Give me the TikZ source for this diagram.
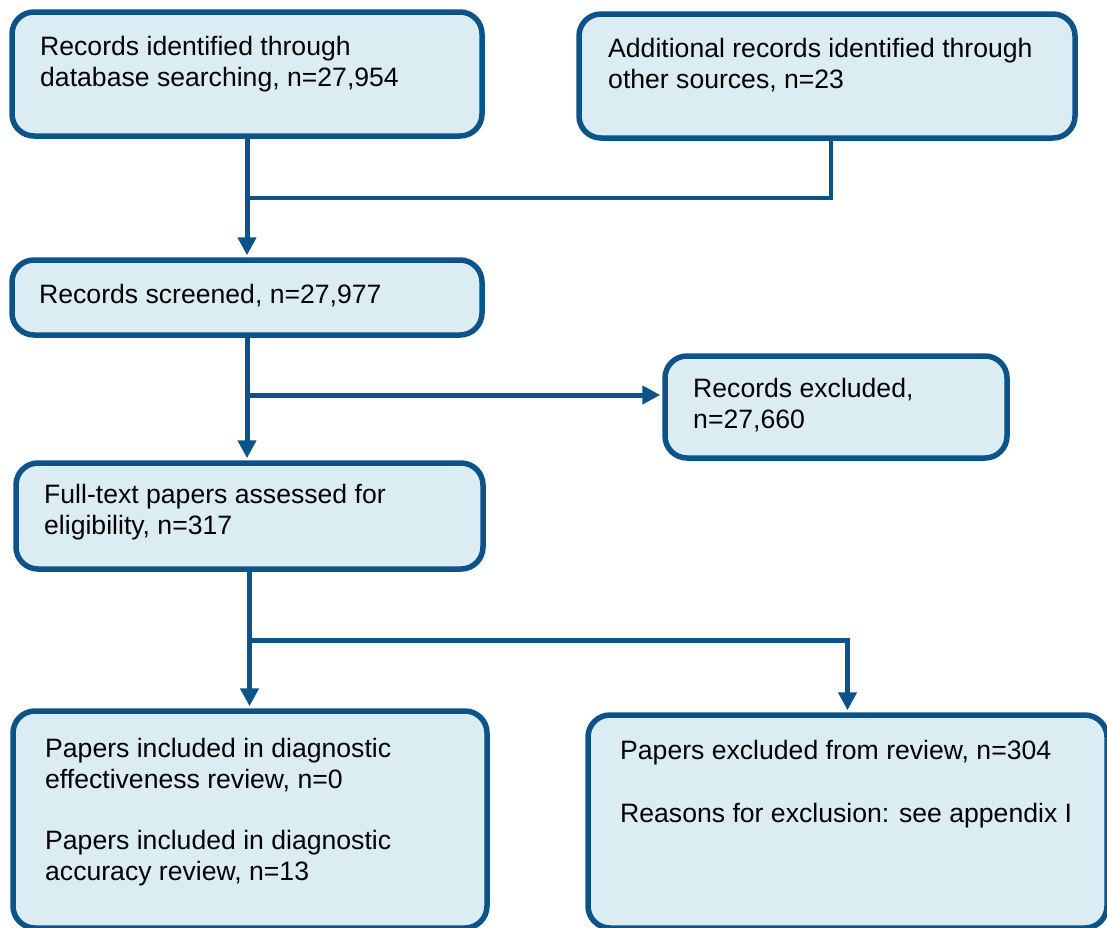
\documentclass[tikz,border=0pt]{standalone}
\usepackage{fontspec}
\setmainfont{Liberation Sans}
\usetikzlibrary{arrows.meta}
\definecolor{bd}{HTML}{0B5389}
\definecolor{fl}{HTML}{DBEDF3}
\begin{document}
\begin{tikzpicture}[x=1pt,y=-1pt,
  box/.style={draw=bd, fill=fl, line width=5.5pt, rounded corners=22pt, inner sep=0pt},
  txt/.style={anchor=base west, inner sep=0pt, font=\fontsize{26.6}{31}\selectfont, align=left},
  conn/.style={draw=bd, line width=5pt},
  arr/.style={conn, -{Triangle[length=18pt,width=18pt]}, shorten >=2pt}]
\useasboundingbox (0,0) rectangle (1107,927);
% boxes
\node[box, minimum width=470pt, minimum height=124pt] (b1) at (247,74) {};
\node[box, minimum width=496pt, minimum height=124pt] (b2) at (827,76) {};
\node[box, minimum width=470pt, minimum height=75pt] (scr) at (247,297.5) {};
\node[box, minimum width=342pt, minimum height=102pt] (exc) at (836,407) {};
\node[box, minimum width=467pt, minimum height=106pt] (ft) at (249.5,516) {};
\node[box, minimum width=474pt, minimum height=217pt] (bl) at (250,819.5) {};
\node[box, minimum width=519pt, minimum height=213pt] (br) at (847.5,821.5) {};
% texts (base anchor = last line's baseline)
\node[txt] (t1) at (40,86) {Records identified through\\database searching, n=27,954};
\node[txt] (t2) at (608,88) {Additional records identified through\\other sources, n=23};
\node[txt] (t3) at (39,303) {Records screened, n=27,977};
\node[txt] (t4) at (693,428) {Records excluded,\\n=27,660};
\node[txt] (t5) at (44,534) {Full-text papers assessed for\\eligibility, n=317};
\node[txt] (t6) at (45,788) {Papers included in diagnostic\\effectiveness review, n=0};
\node[txt] (t7) at (45,880) {Papers included in diagnostic\\accuracy review, n=13};
\node[txt] (t8) at (620,759) {Papers excluded from review, n=304};
\node[txt] (t9) at (620,822) {Reasons for exclusion: see appendix I};
% connectors
\coordinate (j1) at (247,198);
\coordinate (j2) at (247,395);
\coordinate (j3) at (250,640);
\draw[conn, line width=4.5pt] ([xshift=4pt]b2.south) |- (j1);
\draw[arr] (b1.south) -- (scr.north);
\draw[arr] (scr.south) -- (scr.south |- ft.north);
\draw[arr] (j2) -- (exc.west |- j2);
\draw[arr] (ft.south) -- (ft.south |- bl.north);
\draw[arr] (j3) -| (br.north);
\end{tikzpicture}
\end{document}
